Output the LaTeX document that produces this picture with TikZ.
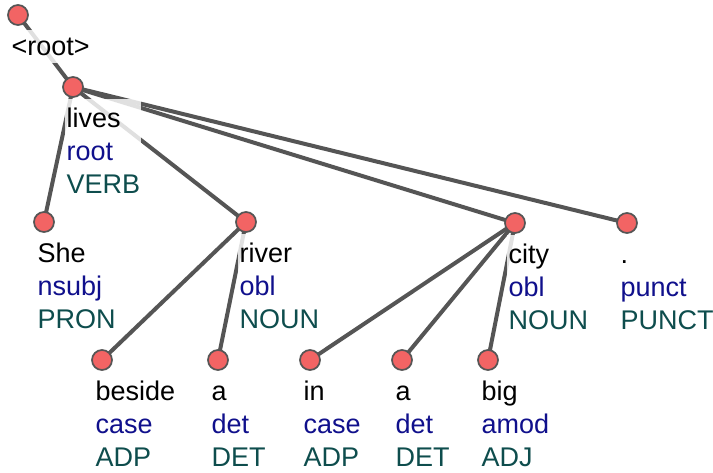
\documentclass[tikz,border=0pt]{standalone}
\usepackage{fontspec}
\setmainfont{Liberation Sans}
\usepackage{xcolor}
\usepackage{tikz}
\usetikzlibrary{positioning, backgrounds}

\newcommand{\etiqueta}[3]{#1\\\textcolor{azul}{#2}\\\textcolor{verde}{#3}}

\begin{document}
\begin{tikzpicture}[x=0.75pt, y=-0.75pt,
  no/.style={circle, fill=vermelho, draw=cinza, line width=1.3pt, minimum size=15pt, inner sep=0pt},
  aresta/.style={draw=cinza, line width=3pt},
  rotulo/.style={anchor=base west, align=left, fill=white, fill opacity=0.82, text opacity=1,
    inner xsep=1pt, inner ysep=6pt, font=\fontsize{20.25}{24.75}\selectfont}]
% --- CORES DA ARVORE DE DEPENDENCIAS ---
\definecolor{vermelho}{HTML}{F26464}
\definecolor{cinza}{HTML}{555555}
\definecolor{azul}{HTML}{10108C}
\definecolor{verde}{HTML}{0E4D4D}

\useasboundingbox (0,0) rectangle (713,472);

% LAYER 1: Nos (palavras)
\foreach \nome/\x/\y in {raiz/18/15, lives/73/87, she/44/222, river/246/222, city/515/223,
  pto/627/223, beside/102/360, a1/218/360, in/310/360, a2/402/360, big/488/360}
  \node[no] (\nome) at (\x,\y) {};

% LAYER 2: Rotulos (forma, relacao, classe) -- base na ultima linha
\node[rotulo] (t-raiz) at ([shift={(-8,40)}]raiz.center) {<root>};
\node[rotulo] (t-lives) at ([shift={(-8,106)}]lives.center) {\etiqueta{lives}{root}{VERB}};
\node[rotulo] (t-she) at ([shift={(-8,106)}]she.center) {\etiqueta{She}{nsubj}{PRON}};
\node[rotulo] (t-river) at ([shift={(-8,106)}]river.center) {\etiqueta{river}{obl}{NOUN}};
\node[rotulo] (t-city) at ([shift={(-8,106)}]city.center) {\etiqueta{city}{obl}{NOUN}};
\node[rotulo] (t-pto) at ([shift={(-8,106)}]pto.center) {\etiqueta{.}{punct}{PUNCT}};
\node[rotulo] (t-beside) at ([shift={(-8,106)}]beside.center) {\etiqueta{beside}{case}{ADP}};
\node[rotulo] (t-a1) at ([shift={(-8,106)}]a1.center) {\etiqueta{a}{det}{DET}};
\node[rotulo] (t-in) at ([shift={(-8,106)}]in.center) {\etiqueta{in}{case}{ADP}};
\node[rotulo] (t-a2) at ([shift={(-8,106)}]a2.center) {\etiqueta{a}{det}{DET}};
\node[rotulo] (t-big) at ([shift={(-8,106)}]big.center) {\etiqueta{big}{amod}{ADJ}};

% LAYER 0: Arcos (por baixo dos rotulos)
\begin{scope}[on background layer]
\foreach \pai/\filho in {raiz/lives, lives/she, lives/river, lives/city, lives/pto,
  river/beside, river/a1, city/in, city/a2, city/big}
  \draw[aresta] (\pai.center) -- (\filho.center);
\end{scope}
\end{tikzpicture}
\end{document}
